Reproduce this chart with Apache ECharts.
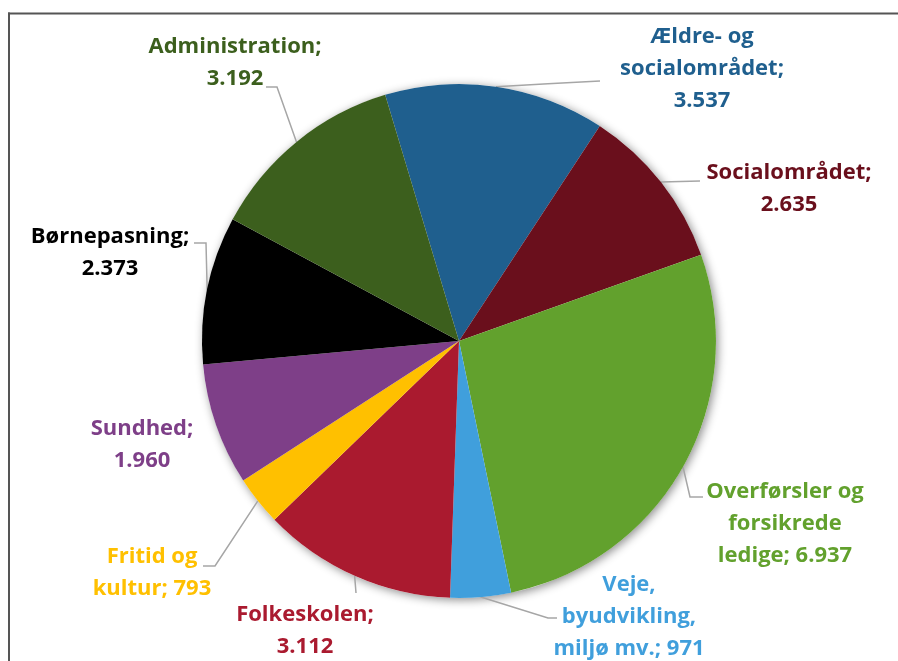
<!DOCTYPE html>
<html>
<head>
<meta charset="utf-8">
<script src="https://cdn.jsdelivr.net/npm/echarts@6/dist/echarts.min.js"></script>
<style>
html,body{margin:0;padding:0;background:#fff;overflow:hidden;}
#chart{width:898px;height:661px;}
</style>
</head>
<body>
<div id="chart"></div>
<script>
// ---- data ----
var categories = [
  'Ældre- og\nsocialområdet',
  'Socialområdet',
  'Overførsler og\nforsikrede\nledige',
  'Veje,\nbyudvikling,\nmiljø mv.',
  'Folkeskolen',
  'Fritid og\nkultur',
  'Sundhed',
  'Børnepasning',
  'Administration'
];
var values = [3537, 2635, 6937, 971, 3112, 793, 1960, 2373, 3192];
var valueSeparators = ['\n', '\n', ' ', ' ', '\n', ' ', '\n', '\n', '\n'];
var colors = ['#1F5F8E', '#6A0F1C', '#62A12D', '#409FDC', '#AA1A2F', '#FFC000', '#7E3F88', '#000000', '#3C5F1D'];

// ---- layout/styling (label placement) ----
var labelCenters = [
  [702, 69], [789, 189], [785, 524], [629, 617], [305, 631],
  [152, 573], [142, 445], [110, 253], [235, 63]
];
// elbow and end point of leader lines (null = straight line / 'none' = no line)
var lineBends = [
  null, null, [[690, 497], [703, 497]], [[548, 618], [557, 618]], null,
  [[215, 566], [203, 566]], 'none', [[206, 243], [194, 243]], [[277, 87], [266, 87]]
];
var lineEnds = [[600, 81], [700, 181], null, null, [356, 593], null, null, null, null];

function fmt(v) { return String(v).replace(/\B(?=(\d{3})+(?!\d))/g, '.'); }

var total = values.reduce(function (a, b) { return a + b; }, 0);
var startAngle = 90 + 16.7;

var chart = echarts.init(document.getElementById('chart'), null, {renderer: 'canvas'});
var data = categories.map(function (c, i) {
  return {
    name: c,
    value: values[i],
    itemStyle: {color: colors[i]},
    label: {color: colors[i]},
    labelLine: {show: lineBends[i] !== 'none'}
  };
});

chart.setOption({
  animation: false,
  graphic: [
    {type: 'line', shape: {x1: 9, y1: 12.5, x2: 9, y2: 700}, style: {stroke: '#555', lineWidth: 2}, z: 0},
    {type: 'line', shape: {x1: 8, y1: 13.5, x2: 960, y2: 13.5}, style: {stroke: '#555', lineWidth: 2}, z: 0}
  ],
  series: [
    {
      type: 'pie',
      silent: true,
      center: [459, 341],
      radius: 257,
      z: 1,
      label: {show: false},
      labelLine: {show: false},
      data: [{value: total, itemStyle: {color: '#fff', shadowBlur: 10, shadowColor: 'rgba(0,0,0,0.45)', shadowOffsetX: 2, shadowOffsetY: 2}}]
    },
    {
      type: 'pie',
      center: [459, 341],
      radius: 257,
      z: 2,
      clockwise: true,
      startAngle: startAngle,
      avoidLabelOverlap: false,
      itemStyle: {borderWidth: 0},
      data: data,
      label: {
        show: true,
        position: 'outside',
        fontFamily: 'Open Sans',
        fontWeight: 'bold',
        fontSize: 22,
        lineHeight: 32,
        align: 'center',
        formatter: function (p) {
          return p.name + ';' + valueSeparators[p.dataIndex] + fmt(p.value);
        }
      },
      labelLine: {
        show: true,
        length: 10,
        length2: 10,
        smooth: false,
        lineStyle: {color: '#A6A6A6', width: 1.5}
      },
      labelLayout: function (p) {
        var i = p.dataIndex;
        var c = labelCenters[i];
        var res = {x: c[0], y: c[1], align: 'center', verticalAlign: 'middle'};
        var anchor = p.labelLinePoints ? p.labelLinePoints[0] : null;
        if (anchor) {
          var b = lineBends[i];
          if (b && b !== 'none') {
            res.labelLinePoints = [anchor, b[0], b[1]];
          } else if (lineEnds[i]) {
            var e = lineEnds[i];
            res.labelLinePoints = [anchor, [(anchor[0] + e[0]) / 2, (anchor[1] + e[1]) / 2], e];
          }
        }
        return res;
      }
    }
  ]
});
</script>
</body>
</html>
